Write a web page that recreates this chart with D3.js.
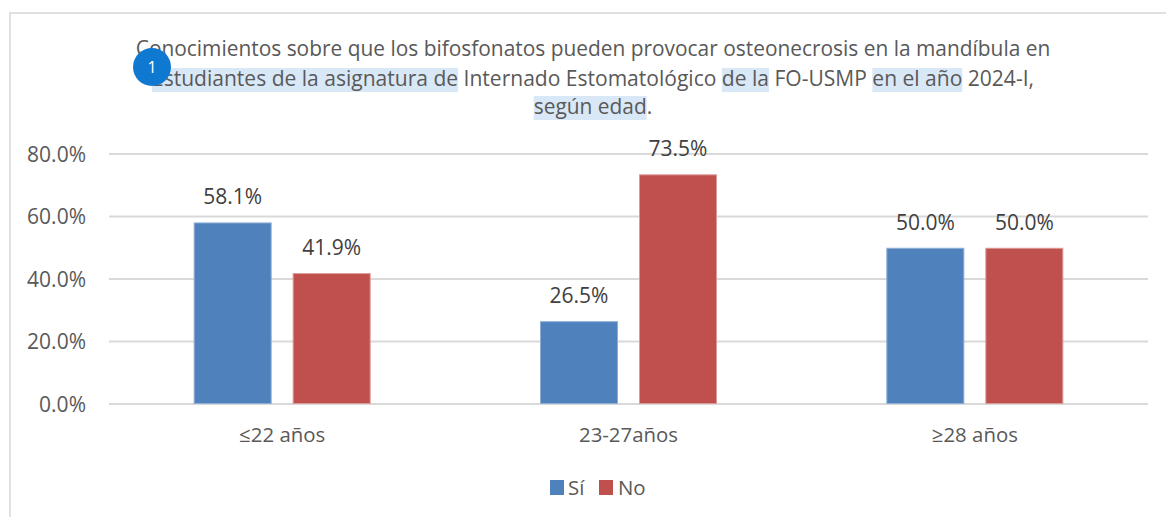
<!DOCTYPE html>
<html><head><meta charset="utf-8">
<script src="https://cdn.jsdelivr.net/npm/d3@7/dist/d3.min.js"></script>
<style>html,body{margin:0;padding:0;background:#fff;overflow:hidden}svg{display:block}text{font-family:"Open Sans",sans-serif;fill:#595959}</style>
</head><body><svg id="c" width="1166" height="517"></svg>
<script>
const categories = ["≤22 años","23-27años","≥28 años"];
const seriesNames = ["Sí","No"];
const si = [58.1,26.5,50.0];
const no = [41.9,73.5,50.0];
const colors = ["#4f81bd","#c0504d"];
const edgeColors = ["#8eaed6","#dc9a98"];
const yTicks = [0,20,40,60,80];
const titleLines = [
 [["Conocimientos sobre que los bifosfonatos pueden provocar osteonecrosis en la mandíbula en",0]],
 [["Estudiantes de la asignatura de",1],[" Internado Estomatológico ",0],["de la",1],[" FO-USMP ",0],["en el año",1],[" 2024-I,",0]],
 [["según edad",1],[".",0]]
];
const svg = d3.select("#c");
svg.append("rect").attr("x",10).attr("y",13).attr("width",1170).attr("height",520).attr("fill","#fff").attr("stroke","#e0e0e0").attr("stroke-width",2);
const x = d3.scaleBand().domain(categories).range([109,1148]);
const y = d3.scaleLinear().domain([0,80]).range([404,154]);
svg.append("g").selectAll("line").data(yTicks).join("line")
 .attr("x1",109).attr("x2",1148).attr("y1",d=>y(d)).attr("y2",d=>y(d)).attr("stroke","#d9d9d9").attr("stroke-width",2);
svg.append("g").selectAll("text").data(yTicks).join("text")
 .attr("x",86).attr("text-anchor","end").attr("y",d=>y(d)+7.5).attr("font-size",21).text(d=>d.toFixed(1)+"%");
const barW = 78, gap = 21;
[si,no].forEach((vals,s)=>{
 const cx = (d,i)=>x(categories[i])+x.bandwidth()/2 + (s===0?-(barW+gap/2):gap/2);
 svg.append("g").selectAll("rect").data(vals).join("rect")
  .attr("x",(d,i)=>cx(d,i)+0.5).attr("width",barW-1).attr("y",d=>y(d)+0.5).attr("height",d=>y(0)-y(d)-1)
  .attr("fill",colors[s]).attr("stroke",edgeColors[s]).attr("stroke-width",1);
 svg.append("g").selectAll("text").data(vals).join("text")
  .attr("x",(d,i)=>cx(d,i)+barW/2).attr("y",d=>y(d)-18).attr("text-anchor","middle").attr("font-size",21).style("fill","#404040").text(d=>d.toFixed(1)+"%");
});
svg.append("g").selectAll("text").data(categories).join("text")
 .attr("x",d=>x(d)+x.bandwidth()/2).attr("y",442).attr("text-anchor","middle").attr("font-size",20.4).text(d=>d);
const leg = [[550,"Sí",568],[599,"No",618]];
leg.forEach((l,i)=>{
 svg.append("rect").attr("x",l[0]).attr("y",480).attr("width",14).attr("height",15).attr("fill",colors[i]);
 svg.append("text").attr("x",l[2]).attr("y",495).attr("font-size",20.4).text(l[1]);
});
const titleBase=[56,86,114], titleCx=[593,593,593], titleSize=[20.9,21.04,20.9];
const hi = svg.append("g");
titleLines.forEach((segs,li)=>{
 const t = svg.append("text").attr("x",titleCx[li]).attr("y",titleBase[li]).attr("text-anchor","middle").attr("font-size",titleSize[li]).style("white-space","pre");
 segs.forEach(s=>t.append("tspan").text(s[0]));
 const node=t.node(); let pos=0;
 segs.forEach(s=>{
  if(s[1]){const ext=node.getExtentOfChar(pos), end=node.getExtentOfChar(pos+s[0].length-1);
   hi.append("rect").attr("x",ext.x).attr("y",titleBase[li]-18).attr("width",end.x+end.width-ext.x).attr("height",24).attr("fill","#d9e8f6");}
  pos+=s[0].length;
 });
});
svg.append("circle").attr("cx",152).attr("cy",67).attr("r",19).attr("fill","#0f78d0");
svg.append("text").attr("x",152).attr("y",73).attr("text-anchor","middle").attr("font-size",16).style("fill","#fff").text("1");
</script></body></html>
